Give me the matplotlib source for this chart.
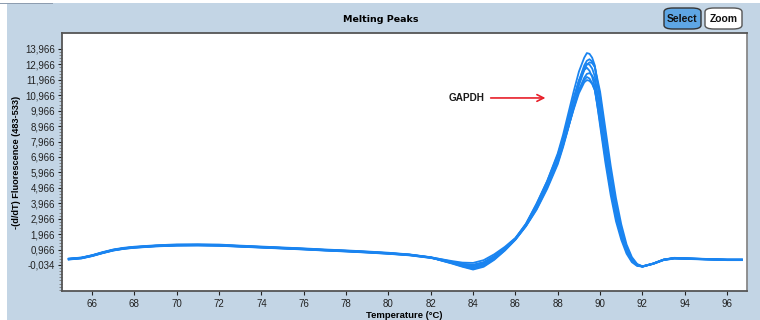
import matplotlib.pyplot as plt
from matplotlib.patches import Rectangle, FancyBboxPatch
from matplotlib.ticker import FixedLocator, FuncFormatter
import numpy as np

# temperature grid (deg C), denser around the melting peak
temps = [64.9, 65.5, 66, 66.5, 67, 67.5, 68, 69, 70, 71, 72, 73, 74, 75, 76, 77, 78, 79, 80, 81, 82,
         82.5, 83, 83.5, 84, 84.5, 85, 85.5, 86, 86.5,
         87, 87.5, 88, 88.25, 88.5, 88.75, 89, 89.25, 89.375, 89.5, 89.625, 89.75, 90, 90.25, 90.5, 90.75,
         91, 91.25, 91.5, 91.75, 92,
         92.5, 93, 93.5, 94, 95, 96, 96.7]

# -(d/dT) fluorescence for each well
well_1 = [0.38, 0.45, 0.60, 0.80, 0.97, 1.08, 1.15, 1.24, 1.30, 1.31, 1.29, 1.22, 1.16, 1.10, 1.04, 0.97, 0.91, 0.84, 0.76, 0.65, 0.47,
          0.33, 0.18, 0.04, -0.02, 0.15, 0.55, 1.05, 1.68, 2.60,
          3.9, 5.4, 7.2, 8.4, 9.8, 11.2, 12.5, 13.4, 13.7, 13.65, 13.4, 12.9, 10.5, 7.8, 5.4, 3.4,
          2.0, 0.95, 0.3, -0.05, -0.15,
          0.05, 0.32, 0.43, 0.41, 0.36, 0.32, 0.32]
well_2 = [0.33, 0.40, 0.55, 0.74, 0.91, 1.02, 1.09, 1.18, 1.23, 1.24, 1.22, 1.16, 1.10, 1.04, 0.98, 0.91, 0.85, 0.78, 0.70, 0.60, 0.43,
          0.28, 0.12, -0.04, -0.12, 0.05, 0.45, 0.98, 1.65, 2.55,
          3.7, 5.1, 6.8, 7.9, 9.2, 10.6, 11.9, 12.9, 13.2, 13.3, 13.15, 12.8, 10.9, 8.4, 6.0, 3.9,
          2.3, 1.15, 0.4, 0.0, -0.12,
          0.04, 0.30, 0.40, 0.38, 0.34, 0.30, 0.30]
well_3 = [0.36, 0.43, 0.58, 0.77, 0.94, 1.05, 1.12, 1.21, 1.26, 1.27, 1.25, 1.19, 1.13, 1.07, 1.01, 0.94, 0.88, 0.81, 0.73, 0.63, 0.46,
          0.34, 0.22, 0.12, 0.10, 0.28, 0.66, 1.14, 1.72, 2.62,
          3.85, 5.3, 7.0, 8.1, 9.4, 10.7, 11.9, 12.75, 13.0, 12.95, 12.7, 12.2, 9.9, 7.4, 5.1, 3.3,
          1.95, 0.95, 0.28, -0.04, -0.12,
          0.06, 0.31, 0.41, 0.39, 0.34, 0.31, 0.31]
well_4 = [0.34, 0.41, 0.56, 0.75, 0.92, 1.03, 1.10, 1.19, 1.24, 1.25, 1.23, 1.17, 1.11, 1.05, 0.99, 0.92, 0.86, 0.79, 0.71, 0.61, 0.44,
          0.30, 0.15, 0.02, -0.05, 0.12, 0.52, 1.04, 1.68, 2.65,
          3.95, 5.4, 7.1, 8.2, 9.5, 10.8, 11.9, 12.6, 12.75, 12.55, 12.15, 11.5, 9.0, 6.6, 4.5, 2.8,
          1.6, 0.7, 0.15, -0.1, -0.13,
          0.04, 0.29, 0.39, 0.37, 0.33, 0.29, 0.29]
well_5 = [0.37, 0.44, 0.59, 0.78, 0.95, 1.06, 1.13, 1.22, 1.27, 1.28, 1.26, 1.20, 1.14, 1.08, 1.02, 0.95, 0.89, 0.82, 0.74, 0.64, 0.46,
          0.26, 0.08, -0.12, -0.28, -0.10, 0.35, 0.92, 1.62, 2.50,
          3.6, 5.0, 6.6, 7.7, 8.9, 10.1, 11.3, 12.1, 12.35, 12.4, 12.25, 11.9, 10.0, 7.6, 5.4, 3.5,
          2.1, 1.05, 0.35, -0.02, -0.14,
          0.05, 0.30, 0.42, 0.40, 0.35, 0.31, 0.31]
well_6 = [0.32, 0.39, 0.54, 0.73, 0.90, 1.01, 1.08, 1.17, 1.22, 1.23, 1.21, 1.15, 1.09, 1.03, 0.97, 0.90, 0.84, 0.77, 0.69, 0.59, 0.42,
          0.29, 0.14, 0.00, -0.08, 0.10, 0.50, 1.02, 1.66, 2.56,
          3.75, 5.15, 6.8, 7.85, 9.0, 10.2, 11.3, 11.95, 12.15, 12.05, 11.75, 11.3, 9.2, 6.9, 4.8, 3.05,
          1.8, 0.85, 0.22, -0.06, -0.13,
          0.03, 0.28, 0.38, 0.36, 0.32, 0.28, 0.28]
well_7 = [0.35, 0.42, 0.57, 0.76, 0.93, 1.04, 1.11, 1.20, 1.25, 1.26, 1.24, 1.18, 1.12, 1.06, 1.00, 0.93, 0.87, 0.80, 0.72, 0.62, 0.45,
          0.27, 0.10, -0.08, -0.20, -0.02, 0.42, 0.96, 1.64, 2.52,
          3.65, 5.05, 6.7, 7.75, 8.9, 10.05, 11.1, 11.8, 11.95, 11.9, 11.7, 11.3, 9.5, 7.3, 5.2, 3.4,
          2.05, 1.0, 0.32, -0.03, -0.14,
          0.05, 0.31, 0.40, 0.38, 0.33, 0.30, 0.30]
well_8 = [0.36, 0.43, 0.58, 0.77, 0.94, 1.05, 1.12, 1.21, 1.26, 1.27, 1.25, 1.19, 1.13, 1.07, 1.01, 0.94, 0.88, 0.81, 0.73, 0.63, 0.45,
          0.25, 0.06, -0.15, -0.33, -0.15, 0.30, 0.90, 1.60, 2.48,
          3.55, 4.9, 6.5, 7.6, 8.85, 10.2, 11.6, 12.6, 12.95, 13.1, 13.05, 12.8, 11.2, 8.8, 6.4, 4.3,
          2.6, 1.3, 0.48, 0.03, -0.12,
          0.06, 0.31, 0.42, 0.40, 0.35, 0.31, 0.31]
wells = [well_1, well_2, well_3, well_4, well_5, well_6, well_7, well_8]

y_ticks = [-0.034, 0.966, 1.966, 2.966, 3.966, 4.966, 5.966, 6.966, 7.966, 8.966, 9.966, 10.966, 11.966, 12.966, 13.966]
x_ticks = [66, 68, 70, 72, 74, 76, 78, 80, 82, 84, 86, 88, 90, 92, 94, 96]

plt.rcParams['font.family'] = ['Liberation Sans', 'DejaVu Sans']

fig = plt.figure(figsize=(7.6, 3.2), dpi=100, facecolor='white')
# panel background
fig.patches.append(Rectangle((7 / 760, 0), 1, 1 - 3 / 320, transform=fig.transFigure,
                             facecolor='#c3d5e5', edgecolor='none', zorder=-10))
fig.patches.append(Rectangle((0, 1 - 4 / 320), 53 / 760, 1 / 320, transform=fig.transFigure,
                             facecolor='#8d9db0', edgecolor='none', zorder=-9))

ax = fig.add_axes([62 / 760, 29 / 320, 685 / 760, 258 / 320])
ax.set_facecolor('white')

for w in wells:
    ax.plot(temps, w, color='#1a84f0', lw=1.3, solid_joinstyle='round')

ax.set_xlim(64.58, 96.94)
ax.set_ylim(-1.72, 15.0)

ax.xaxis.set_major_locator(FixedLocator(x_ticks))
ax.yaxis.set_major_locator(FixedLocator(y_ticks))
ax.yaxis.set_minor_locator(FixedLocator(np.arange(-1.634, 14.0, 0.2)))
ax.yaxis.set_major_formatter(FuncFormatter(lambda v, p: ('%.3f' % v).replace('.', ',')))
ax.tick_params(axis='both', labelsize=7, colors='#222222', length=3, width=0.8, pad=2)
ax.tick_params(axis='y', which='minor', length=2, width=0.6, colors='#777777')
ax.tick_params(axis='x', pad=3)

for side in ['top', 'left', 'bottom']:
    ax.spines[side].set_color('#555555')
    ax.spines[side].set_linewidth(1.3)
ax.spines['right'].set_color('#888888')
ax.spines['right'].set_linewidth(1.3)

ax.set_xlabel('Temperature (°C)', fontsize=6.8, fontweight='bold', labelpad=1)
ax.set_ylabel('-(d/dT) Fluorescence (483-533)', fontsize=6.6, fontweight='bold', labelpad=3)

fig.text(381 / 760, 1 - 20 / 320, 'Melting Peaks', ha='center', va='center',
         fontsize=6.8, fontweight='bold', family='DejaVu Sans')

# GAPDH peak annotation
ax.annotate('', xy=(87.55, 10.79), xytext=(84.7, 10.79),
            arrowprops=dict(arrowstyle='->', color='#e8202a', lw=1.2, mutation_scale=12))
ax.text(82.86, 10.79, 'GAPDH', ha='left', va='center', fontsize=7.2, fontweight='bold', color='#1a1a1a')

# Select / Zoom buttons
for x0, label, fc, ec in [(664, 'Select', '#5ea6e4', '#333333'), (705, 'Zoom', 'white', '#555555')]:
    fig.patches.append(FancyBboxPatch((x0 / 760, 1 - 29 / 320), 37 / 760, 21 / 320,
                                      boxstyle='round,pad=0,rounding_size=0.012', transform=fig.transFigure,
                                      facecolor=fc, edgecolor=ec, lw=1.0))
    fig.text((x0 + 18.5) / 760, 1 - 18.5 / 320, label, ha='center', va='center',
             fontsize=7.5, fontweight='bold', color='#111111')

fig.savefig('out.png', dpi=100)
